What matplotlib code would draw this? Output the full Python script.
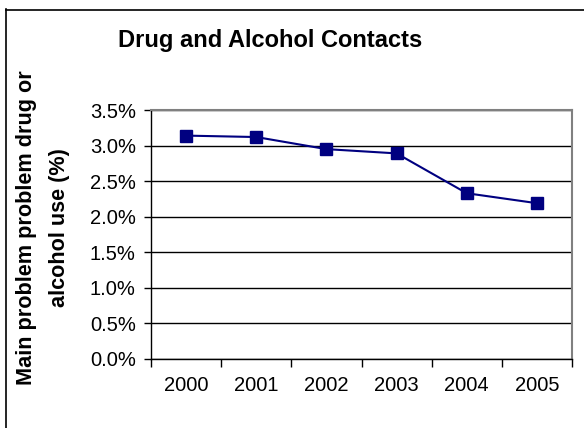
import matplotlib
matplotlib.use("Agg")
import matplotlib.pyplot as plt
from matplotlib.lines import Line2D
from matplotlib.ticker import FixedLocator, NullFormatter, FuncFormatter

years = ["2000", "2001", "2002", "2003", "2004", "2005"]
values = [3.14, 3.12, 2.95, 2.89, 2.33, 2.19]
yticks = [0.0, 0.5, 1.0, 1.5, 2.0, 2.5, 3.0, 3.5]

plt.rcParams['font.family'] = ['Liberation Sans', 'DejaVu Sans']

W, H = 584, 428
fig = plt.figure(figsize=(W / 100, H / 100), dpi=100)
fig.patch.set_facecolor("white")

ax = fig.add_axes([151 / W, 1 - 359 / H, (572 - 151) / W, (359 - 110) / H])
x = list(range(1, len(years) + 1))
ax.plot(x, values, color="#000080", lw=1.5, marker="s", markersize=8,
        markerfacecolor="#000080", markeredgecolor="#000080", zorder=5)

ax.set_xlim(0.5, len(years) + 0.5)
ax.set_ylim(0, 3.5)
ax.set_yticks(yticks)
ax.yaxis.set_major_formatter(FuncFormatter(lambda v, p: f"{v:.1f}%"))
ax.yaxis.grid(True, color="black", lw=1.0)
ax.set_axisbelow(True)

ax.xaxis.set_major_locator(FixedLocator([i + 0.5 for i in range(0, len(years) + 1)]))
ax.xaxis.set_major_formatter(NullFormatter())
ax.xaxis.set_minor_locator(FixedLocator(x))
ax.xaxis.set_minor_formatter(FuncFormatter(lambda v, p: years[int(round(v)) - 1]))
ax.tick_params(axis="x", which="major", direction="out", length=6, width=1, color="black")
ax.tick_params(axis="x", which="minor", length=0, labelsize=14.5, pad=12)
ax.tick_params(axis="y", direction="out", length=5, width=1, color="black",
               labelsize=14.5, pad=6)

for s in ["left", "bottom"]:
    ax.spines[s].set_color("black")
    ax.spines[s].set_linewidth(1.0)
for s in ["top", "right"]:
    ax.spines[s].set_color("#808080")
    ax.spines[s].set_linewidth(1.5)

fig.text(270 / W, 1 - 40 / H, "Drug and Alcohol Contacts", ha="center", va="center",
         fontsize=17, fontweight="bold")
fig.text(43 / W, 1 - 228 / H, "Main problem problem drug or\nalcohol use (%)",
         ha="center", va="center", rotation=90, fontsize=15.6, fontweight="bold",
         linespacing=1.75, multialignment="center")

fig.add_artist(Line2D([5.5 / W, 5.5 / W], [0, 1 - 9 / H], color="black", lw=1.2,
                      transform=fig.transFigure))
fig.add_artist(Line2D([5.5 / W, 1], [1 - 9.5 / H, 1 - 9.5 / H], color="black", lw=1.2,
                      transform=fig.transFigure))

fig.savefig("out.png", dpi=100)
